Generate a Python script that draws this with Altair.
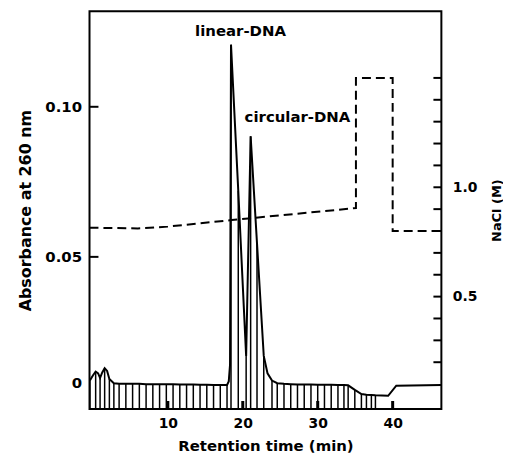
import altair as alt
import pandas as pd

# ---- data ----
time_min = [-0.40, 0.0, 0.37, 0.7, 0.96, 1.25, 1.57, 1.9, 2.2, 2.8,
            3.5, 4.4, 5.3, 6.2, 7.1, 8.0, 8.9, 9.8, 10.7, 11.6,
            12.5, 13.4, 14.3, 15.2, 16.1, 17.0, 17.9, 18.13, 18.3, 18.43,
            19.4, 20.45, 21.05, 21.9, 22.8, 23.3, 23.9, 24.6, 25.5, 26.4,
            27.3, 28.2, 29.1, 30.0, 30.9, 31.8, 32.7, 33.5, 34.06, 34.95,
            35.83, 36.5, 37.16, 37.7, 39.4, 40.48, 46.5]
absorbance = [0.0088, 0.0105, 0.0118, 0.0112, 0.0097, 0.0115, 0.0129, 0.0120, 0.0093, 0.0079,
              0.0077, 0.0077, 0.0077, 0.0077, 0.0076, 0.0076, 0.0076, 0.0076, 0.0076, 0.0075,
              0.0075, 0.0075, 0.0074, 0.0074, 0.0073, 0.0073, 0.0073, 0.0085, 0.0140, 0.1207,
              0.0720, 0.0170, 0.0902, 0.0545, 0.0170, 0.0112, 0.0088, 0.0079, 0.0077, 0.0076,
              0.0075, 0.0075, 0.0075, 0.0074, 0.0074, 0.0074, 0.0073, 0.0073, 0.0072, 0.0057,
              0.0043, 0.0041, 0.0040, 0.0039, 0.0037, 0.0071, 0.0073]
# which trace points carry a vertical hatch line down to the baseline
hatched = [1, 0, 1, 0, 1, 0, 1, 0, 1, 1,
           1, 1, 1, 1, 1, 1, 1, 1, 1, 1,
           1, 1, 1, 1, 1, 1, 1, 0, 0, 1,
           1, 1, 1, 1, 1, 0, 1, 1, 1, 1,
           1, 1, 1, 1, 1, 1, 1, 1, 1, 1,
           1, 1, 1, 1, 0, 0, 0]

nacl_time = [-0.45, 6.0, 10.0, 18.5, 23.0, 35.1, 35.1, 40.0, 40.0, 46.5]
nacl_molar = [0.815, 0.812, 0.82, 0.85, 0.865, 0.905, 1.5, 1.5, 0.80, 0.80]

x_tick_values = [10, 20, 30, 40]
abs_tick_values = [0, 0.05, 0.10]
abs_inner_ticks = [0.05, 0.10]
nacl_label_values = [0.5, 1.0]
nacl_tick_values = [0.2, 0.3, 0.4, 0.5, 0.6, 0.7, 0.8, 0.9, 1.0, 1.1, 1.2, 1.3, 1.4, 1.5]

peak_names = ["linear-DNA", "circular-DNA"]
peak_label_t = [19.7, 27.3]
peak_label_a = [0.1252, 0.0967]

X_DOMAIN = [-0.45, 46.5]
A_DOMAIN = [-0.00066, 0.1318]
N_DOMAIN = [-0.0136, 1.8045]
W, H = 354, 400
FONT = "DejaVu Sans"

xs = alt.Scale(domain=X_DOMAIN, nice=False, zero=False)
ya = alt.Scale(domain=A_DOMAIN, nice=False, zero=False)
yn = alt.Scale(domain=N_DOMAIN, nice=False, zero=False)

x_axis = alt.Axis(values=x_tick_values, ticks=False, domain=False, grid=False,
                  labelPadding=8, labelFontSize=14,
                  title="Retention time (min)", titleFontSize=15, titlePadding=8)


def X(field="t"):
    return alt.X(f"{field}:Q", scale=xs, axis=x_axis)


trace_df = pd.DataFrame({"t": time_min, "A": absorbance, "h": hatched})
nacl_df = pd.DataFrame({"t": nacl_time, "M": nacl_molar, "i": list(range(len(nacl_time)))})
label_df = pd.DataFrame({"t": peak_label_t, "A": peak_label_a, "name": peak_names})

hatch = alt.Chart(trace_df).transform_filter(
    "datum.h == 1"
).mark_rule(color="black", strokeWidth=1.5).encode(
    x=X(),
    y=alt.Y("A:Q", scale=ya, axis=None),
    y2=alt.value(H),
)

trace = alt.Chart(trace_df).mark_line(color="black", strokeWidth=2).encode(
    x=X(),
    y=alt.Y("A:Q", scale=ya,
            axis=alt.Axis(values=abs_tick_values, ticks=False, domain=False, grid=False,
                          labelExpr="datum.value == 0 ? '0' : format(datum.value, '.2f')",
                          labelOffset={"condition": {"test": "datum.value == 0", "value": -25},
                                       "value": 0},
                          labelPadding=8, labelFontSize=15,
                          title="Absorbance at 260 nm", titleFontSize=16, titlePadding=11)),
)

nacl = alt.Chart(nacl_df).mark_line(color="black", strokeWidth=2, strokeDash=[9, 5]).encode(
    x=X(),
    y=alt.Y("M:Q", scale=yn,
            axis=alt.Axis(orient="right", values=nacl_label_values, format=".1f",
                          ticks=False, domain=False, grid=False, labelPadding=11,
                          labelFontSize=14, title="NaCl (M)", titleFontSize=13,
                          titleAngle=270, titlePadding=27)),
    order=alt.Order("i:Q"),
)

left_ticks = alt.Chart(pd.DataFrame({"v": abs_inner_ticks})).mark_rule(
    color="black", strokeWidth=2).encode(
    x=alt.value(0), x2=alt.value(9),
    y=alt.Y("v:Q", scale=ya, axis=None),
)

right_ticks = alt.Chart(pd.DataFrame({"v": nacl_tick_values})).mark_rule(
    color="black", strokeWidth=2).encode(
    x=alt.value(W - 8), x2=alt.value(W),
    y=alt.Y("v:Q", scale=yn, axis=None),
)

bottom_ticks = alt.Chart(pd.DataFrame({"t": x_tick_values})).mark_rule(
    color="black", strokeWidth=3).encode(
    x=X(),
    y=alt.value(H - 8), y2=alt.value(H),
)

labels = alt.Chart(label_df).mark_text(
    font=FONT, fontWeight="bold", fontSize=15, color="black",
    align="center", baseline="middle").encode(
    x=X(),
    y=alt.Y("A:Q", scale=ya, axis=None),
    text="name:N",
)

chart = alt.layer(
    hatch, trace, nacl, left_ticks, right_ticks, bottom_ticks, labels
).resolve_scale(y="independent").properties(
    width=W, height=H,
    autosize=alt.AutoSizeParams(type="none"),
    padding={"left": 82, "top": 2, "right": 62, "bottom": 46},
    background="white",
).configure_view(
    stroke="black", strokeWidth=2
).configure_axis(
    labelFont=FONT, labelFontWeight="bold", labelColor="black",
    titleFont=FONT, titleFontWeight="bold", titleColor="black", grid=False,
)

chart.save("out.html", embed_options={"renderer": "svg", "actions": False})
